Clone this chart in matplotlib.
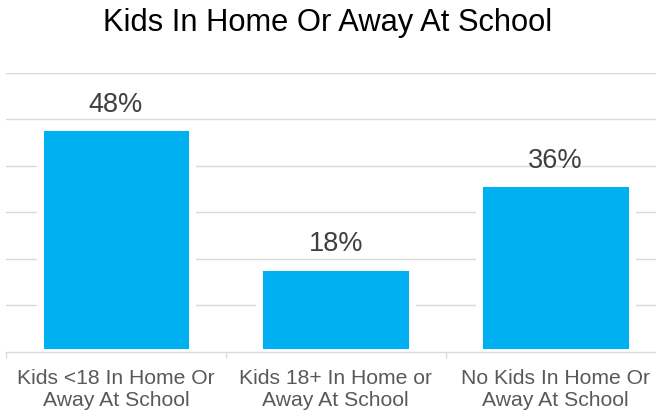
import numpy as np
from matplotlib import pyplot as plt
import matplotlib as mpl

# data
categories = ['Kids <18 In Home Or\nAway At School',
              'Kids 18+ In Home or\nAway At School',
              'No Kids In Home Or\nAway At School']
values = [48.3, 18.3, 36.3]
bar_labels = ['48%', '18%', '36%']
grid_levels = [10, 20, 30, 40, 50, 60]

BAR_COLOR = '#00B0F0'
GRID_COLOR = '#D9D9D9'


def set_mpl():
    mpl.rcParams.update({
        'font.family': ['Liberation Sans', 'DejaVu Sans'],
        'savefig.dpi': 100,
    })


def plot_figure():
    set_mpl()
    fig = plt.figure(figsize=(6.56, 4.14), dpi=100)
    ax = fig.add_axes([5.9 / 656, 61.3 / 414, 659.5 / 656, 278.7 / 414])

    x = np.arange(len(categories))
    bars = ax.bar(x, values, width=0.693, color=BAR_COLOR,
                  edgecolor='white', linewidth=5, zorder=2)

    for rect, lab in zip(bars, bar_labels):
        ax.annotate(lab, (rect.get_x() + rect.get_width() / 2, rect.get_height()),
                    xytext=(0, 7.5), textcoords='offset points',
                    ha='center', va='bottom', fontsize=19.5, color='#404040')

    ax.set_xlim(-0.5, len(categories) - 0.5)
    ax.set_ylim(0, 60)
    ax.set_yticks(grid_levels)
    ax.yaxis.grid(True, color=GRID_COLOR, linewidth=1.0, zorder=0)
    ax.set_axisbelow(True)
    ax.tick_params(axis='y', left=False, labelleft=False)

    ax.set_xticks(x)
    ax.set_xticklabels(categories, fontsize=15.2, color='#595959', linespacing=1.17)
    ax.set_xticks(np.arange(len(categories) + 1) - 0.5, minor=True)
    ax.tick_params(axis='x', which='major', length=0, pad=12)
    ax.tick_params(axis='x', which='minor', length=4.3, width=1.0, color=GRID_COLOR)

    for s in ['top', 'left', 'right']:
        ax.spines[s].set_visible(False)
    ax.spines['bottom'].set_color(GRID_COLOR)
    ax.spines['bottom'].set_linewidth(1.0)
    ax.spines['bottom'].set_zorder(3)

    fig.text(328 / 656, 1 - 22.5 / 414, 'Kids In Home Or Away At School',
             ha='center', va='center', fontsize=22.2, color='#000000')

    fig.savefig('out.png', dpi=100)


if __name__ == "__main__":
    plot_figure()
